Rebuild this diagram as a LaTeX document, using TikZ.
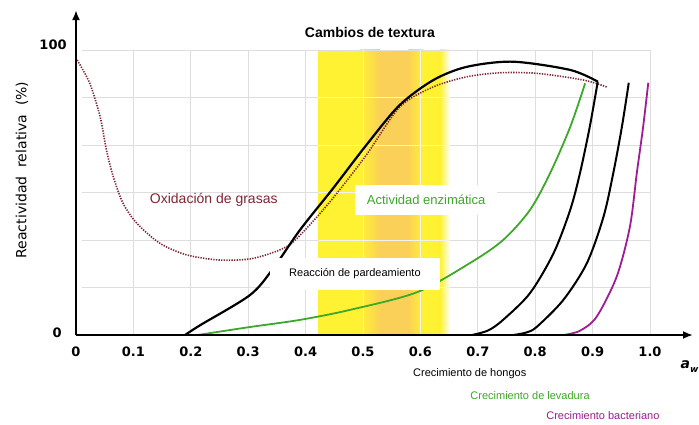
\documentclass[tikz,border=0pt]{standalone}
\usepackage{fontspec}
\setmainfont{Liberation Sans}
\newfontfamily\tickfont{DejaVu Sans}
\usetikzlibrary{arrows.meta}
\definecolor{bandyellow}{RGB}{255,242,50}
\definecolor{bandorange}{RGB}{250,208,88}
\definecolor{fatred}{RGB}{128,38,50}
\definecolor{enzgreen}{RGB}{62,168,42}
\definecolor{bactpurple}{RGB}{158,28,148}
\definecolor{gridgray}{RGB}{222,222,222}

\begin{document}
\begin{tikzpicture}[x=1pt, y=1pt,
    gridline/.style={gridgray, line width=0.8pt},
    curve/.style={line width=2pt, line join=round},
    ticklabel/.style={font=\tickfont\bfseries\fontsize{13}{13}\selectfont},
    growthlabel/.style={font=\fontsize{11}{11}\selectfont},
    whitebox/.style={fill=white, inner sep=0pt}]
\useasboundingbox (0,0) rectangle (699,424);
\fill[white] (0,0) rectangle (699,424);

\begin{scope}[shift={(76,89)}, x=574pt, y=2.85pt]
    % Texture band
    \fill[bandyellow] (0.422,0) rectangle (0.635,100);
    \shade[left color=bandyellow, right color=bandorange] (0.495,0) rectangle (0.53,100);
    \fill[bandorange] (0.529,0) rectangle (0.58,100);
    \shade[left color=bandorange, right color=bandyellow] (0.579,0) rectangle (0.604,100);
    \shade[left color=bandyellow, right color=white] (0.634,0) rectangle (0.652,100);

    % Grid
    \foreach \gx in {0.1,0.2,...,1.01}
        \draw[gridline] (\gx,0) -- (\gx,100);
    \foreach \gy in {16.667,33.333,50,66.667,83.333,100}
        \draw[gridline] (0.01,\gy) -- (1,\gy);
    \begin{scope}
        \clip (0.422,0) rectangle (0.652,100);
        \foreach \gx in {0.5,0.6}
            \draw[white, opacity=0.6, line width=0.8pt] (\gx,0) -- (\gx,100);
        \foreach \gy in {16.667,33.333,50,66.667,83.333}
            \draw[white, opacity=0.6, line width=0.8pt] (0.4,\gy) -- (0.66,\gy);
    \end{scope}

    % Curves
    \draw[curve, fatred, line width=1.6pt, dash pattern=on 1.3pt off 1.3pt] plot[smooth] coordinates {
        (0.002,96.5) (0.024,88.3) (0.042,76.6) (0.053,64.9) (0.065,55.5) (0.082,46.2)
        (0.106,39.2) (0.146,32.2) (0.193,28.1) (0.251,26.3) (0.309,26.9) (0.367,31)
        (0.402,37.5) (0.448,48.1) (0.506,63.2) (0.564,80) (0.622,87) (0.681,90.6)
        (0.739,92) (0.803,91.8) (0.883,89.5) (0.925,87)};
    \draw[curve, black, line width=2.2pt] plot[smooth] coordinates {
        (0.19,0) (0.216,3.4) (0.303,14) (0.343,23.2) (0.39,36.8) (0.448,51.5)
        (0.506,66.7) (0.564,80.7) (0.623,89.5) (0.681,94.1) (0.761,95.9)
        (0.861,93) (0.909,88.9)};
    \draw[curve, enzgreen, line width=1.8pt] plot[smooth] coordinates {
        (0.212,0) (0.303,2.8) (0.39,5.3) (0.477,8.8) (0.594,15) (0.686,25.2)
        (0.744,33.3) (0.791,43.9) (0.826,56.8) (0.861,73) (0.887,88.3)};
    \draw[curve, black] plot[smooth] coordinates {
        (0.69,0) (0.718,1.6) (0.744,5.3) (0.791,14.7) (0.832,28.7) (0.861,43.9)
        (0.878,56.8) (0.895,73) (0.909,88.9)};
    \draw[curve, black] plot[smooth] coordinates {
        (0.762,0) (0.785,0.9) (0.803,2.9) (0.849,12.3) (0.89,25.2) (0.919,41.5)
        (0.936,56.8) (0.951,73) (0.963,88.5)};
    \draw[curve, bactpurple, line width=1.8pt] plot[smooth] coordinates {
        (0.85,0) (0.878,1.5) (0.907,6.4) (0.942,20.5) (0.965,38) (0.977,56.8)
        (0.988,73) (0.997,88.5)};

    % Curve labels
    \node[whitebox, minimum width=170pt, minimum height=32pt,
          font=\fontsize{11}{11}\selectfont] (browning) at (0.486,21.4) {Reacción de pardeamiento};
    \node[whitebox, minimum width=142pt, minimum height=30pt, text=enzgreen,
          font=\fontsize{13}{13}\selectfont] (enzyme) at (0.61,47.4) {Actividad enzimática};
    \node[text=fatred, font=\fontsize{14}{14}\selectfont] (fat) at (0.24,47.4) {Oxidación de grasas};
    \node[font=\bfseries\fontsize{14}{14}\selectfont] (title) at (0.512,106.3) {Cambios de textura};

    % Axes
    \coordinate (origin) at (0,0);
    \coordinate (xend) at (1.075,0);
    \coordinate (yend) at (0,114);
    \draw[line width=2pt, -{Latex[length=10pt, width=8pt]}] (origin) -- (xend);
    \draw[line width=2pt, -{Latex[length=10pt, width=8pt]}] (origin) -- (yend);

    % Axis labels
    \foreach \v/\t [count=\i] in {0/0,0.1/0.1,0.2/0.2,0.3/0.3,0.4/0.4,0.5/0.5,
                                  0.6/0.6,0.7/0.7,0.8/0.8,0.9/0.9,1/1.0}
        \node[ticklabel] (tick\i) at (\v,-6) {\t};
    \node[ticklabel] (ymax) at (-0.04,101.8) {100};
    \node[ticklabel] (ymin) at (-0.033,0.7) {0};
    \node[rotate=90, font=\tickfont\fontsize{14}{14}\selectfont] (ylabel) at (-0.094,57.9) {Reactividad\ \ relativa\ \ (\%)};
    \node[anchor=west, font=\tickfont\bfseries\itshape\fontsize{14}{14}\selectfont, inner sep=0pt] (aw) at (1.053,-11.2) {a\raisebox{-4pt}{\fontsize{9}{9}\selectfont w}};

    % Growth labels
    \node[growthlabel] (molds) at (0.686,-13.7) {Crecimiento de hongos};
    \node[growthlabel, text=enzgreen] (yeast) at (0.791,-21.1) {Crecimiento de levadura};
    \node[growthlabel, text=bactpurple] (bacteria) at (0.918,-28.1) {Crecimiento bacteriano};
\end{scope}
\end{tikzpicture}
\end{document}
